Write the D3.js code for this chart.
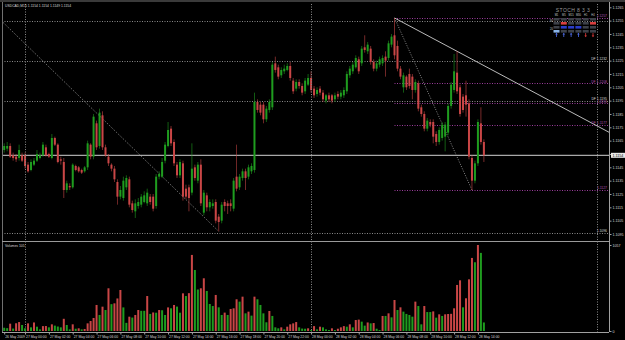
<!DOCTYPE html>
<html>
<head>
<meta charset="utf-8">
<script src="https://cdn.jsdelivr.net/npm/d3@7/dist/d3.min.js"></script>
<style>
  html, body { margin: 0; padding: 0; background: #000; }
  svg { display: block; }
</style>
</head>
<body>
<svg id="chart"></svg>
<script>
// USDCAD M15, 162 bars, bar 7 = 27 May 00:00
const opens = [
  1.1158,1.1159,1.1161,1.1154,1.1153,1.1152,1.1154,1.1154,1.1147,1.1143,
  1.1147,1.1150,1.1152,1.1154,1.1160,1.1155,1.1152,1.1167,1.1162,1.1151,
  1.1149,1.1128,1.1131,1.1130,1.1146,1.1145,1.1143,1.1142,1.1145,1.1162,
  1.1153,1.1178,1.1161,1.1184,1.1160,1.1153,1.1147,1.1144,1.1134,1.1123,
  1.1122,1.1130,1.1136,1.1118,1.1112,1.1116,1.1117,1.1119,1.1118,1.1123,
  1.1123,1.1116,1.1138,1.1138,1.1150,1.1161,1.1174,1.1164,1.1147,1.1139,
  1.1148,1.1129,1.1130,1.1126,1.1145,1.1135,1.1147,1.1111,1.1124,1.1115,
  1.1116,1.1119,1.1108,1.1105,1.1119,1.1118,1.1118,1.1114,1.1138,1.1130,
  1.1137,1.1142,1.1138,1.1142,1.1143,1.1194,1.1192,1.1192,1.1181,1.1188,
  1.1190,1.1223,1.1220,1.1214,1.1217,1.1218,1.1221,1.1210,1.1204,1.1209,
  1.1206,1.1202,1.1207,1.1212,1.1204,1.1200,1.1204,1.1201,1.1195,1.1199,
  1.1199,1.1196,1.1200,1.1198,1.1199,1.1202,1.1214,1.1217,1.1220,1.1226,
  1.1223,1.1235,1.1232,1.1234,1.1224,1.1219,1.1222,1.1223,1.1228,1.1227,
  1.1237,1.1244,1.1236,1.1219,1.1205,1.1213,1.1215,1.1213,1.1203,1.1208,
  1.1190,1.1185,1.1174,1.1179,1.1179,1.1170,1.1164,1.1167,1.1168,1.1171,
  1.1191,1.1203,1.1216,1.1205,1.1198,1.1199,1.1193,1.1152,1.1135,1.1148,
  1.1178,1.1164
];
const highs = [
  1.1163,1.1164,1.1163,1.1156,1.1155,1.1162,1.1156,1.1156,1.1149,1.1151,
  1.1152,1.1158,1.1156,1.1164,1.1162,1.1156,1.1170,1.1168,1.1163,1.1153,
  1.1152,1.1135,1.1133,1.1148,1.1147,1.1146,1.1144,1.1146,1.1165,1.1163,
  1.1185,1.1180,1.1189,1.1187,1.1162,1.1155,1.1148,1.1146,1.1136,1.1131,
  1.1138,1.1139,1.1138,1.1120,1.1121,1.1122,1.1125,1.1127,1.1129,1.1125,
  1.1125,1.1140,1.1142,1.1152,1.1164,1.1179,1.1176,1.1166,1.1149,1.1151,
  1.1150,1.1132,1.1132,1.1163,1.1147,1.1149,1.1151,1.1128,1.1126,1.1121,
  1.1121,1.1121,1.1110,1.1119,1.1121,1.1120,1.1121,1.1137,1.1162,1.1140,
  1.1144,1.1144,1.1147,1.1148,1.1201,1.1196,1.1194,1.1194,1.1191,1.1196,
  1.1224,1.1228,1.1222,1.1220,1.1222,1.1223,1.1224,1.1212,1.1211,1.1211,
  1.1208,1.1212,1.1215,1.1217,1.1206,1.1205,1.1206,1.1203,1.1200,1.1201,
  1.1200,1.1201,1.1202,1.1203,1.1205,1.1217,1.1221,1.1224,1.1229,1.1228,
  1.1236,1.1244,1.1239,1.1236,1.1226,1.1225,1.1228,1.1229,1.1232,1.1240,
  1.1245,1.1257,1.1240,1.1221,1.1216,1.1214,1.1219,1.1215,1.1211,1.1210,
  1.1192,1.1187,1.1182,1.1181,1.1181,1.1172,1.1175,1.1179,1.1179,1.1193,
  1.1209,1.1230,1.1232,1.1207,1.1200,1.1210,1.1196,1.1154,1.1150,1.1181,
  1.1190,1.1166
];
const lows = [
  1.1156,1.1157,1.1152,1.1150,1.1149,1.1150,1.1149,1.1144,1.1141,1.1142,
  1.1146,1.1149,1.1151,1.1153,1.1153,1.1152,1.1151,1.1161,1.1148,1.1147,
  1.1122,1.1126,1.1128,1.1129,1.1142,1.1141,1.1140,1.1141,1.1143,1.1151,
  1.1151,1.1158,1.1159,1.1158,1.1153,1.1146,1.1142,1.1134,1.1117,1.1121,
  1.1120,1.1128,1.1115,1.1111,1.1107,1.1114,1.1115,1.1118,1.1116,1.1117,
  1.1112,1.1114,1.1136,1.1137,1.1148,1.1160,1.1161,1.1146,1.1137,1.1137,
  1.1120,1.1121,1.1112,1.1124,1.1135,1.1133,1.1116,1.1109,1.1112,1.1112,
  1.1114,1.1103,1.1097,1.1103,1.1112,1.1110,1.1112,1.1112,1.1127,1.1128,
  1.1135,1.1128,1.1136,1.1140,1.1141,1.1186,1.1184,1.1178,1.1179,1.1186,
  1.1188,1.1216,1.1211,1.1212,1.1215,1.1217,1.1210,1.1200,1.1202,1.1204,
  1.1199,1.1200,1.1206,1.1201,1.1197,1.1198,1.1199,1.1194,1.1193,1.1194,
  1.1193,1.1194,1.1196,1.1196,1.1197,1.1200,1.1212,1.1215,1.1219,1.1215,
  1.1221,1.1231,1.1230,1.1222,1.1217,1.1217,1.1220,1.1221,1.1213,1.1225,
  1.1235,1.1226,1.1217,1.1211,1.1201,1.1203,1.1204,1.1196,1.1201,1.1187,
  1.1183,1.1172,1.1172,1.1175,1.1163,1.1161,1.1162,1.1165,1.1157,1.1169,
  1.1189,1.1201,1.1200,1.1183,1.1186,1.1183,1.1151,1.1128,1.1133,1.1146,
  1.1162,1.1149
];
const closes = [
  1.1161,1.1161,1.1153,1.1152,1.1151,1.1158,1.1150,1.1146,1.1142,1.1149,
  1.1150,1.1155,1.1154,1.1162,1.1154,1.1153,1.1167,1.1162,1.1149,1.1150,
  1.1128,1.1133,1.1130,1.1147,1.1143,1.1142,1.1141,1.1145,1.1163,1.1153,
  1.1183,1.1160,1.1186,1.1160,1.1154,1.1148,1.1144,1.1136,1.1123,1.1128,
  1.1135,1.1137,1.1117,1.1113,1.1118,1.1119,1.1123,1.1124,1.1126,1.1119,
  1.1114,1.1138,1.1140,1.1149,1.1162,1.1173,1.1163,1.1148,1.1139,1.1149,
  1.1123,1.1123,1.1122,1.1144,1.1137,1.1147,1.1118,1.1126,1.1115,1.1119,
  1.1118,1.1105,1.1104,1.1117,1.1116,1.1116,1.1116,1.1135,1.1129,1.1138,
  1.1142,1.1137,1.1145,1.1146,1.1194,1.1188,1.1186,1.1181,1.1189,1.1194,
  1.1222,1.1218,1.1213,1.1218,1.1219,1.1221,1.1212,1.1202,1.1209,1.1206,
  1.1201,1.1210,1.1212,1.1203,1.1199,1.1203,1.1201,1.1196,1.1199,1.1196,
  1.1195,1.1199,1.1198,1.1201,1.1203,1.1215,1.1219,1.1222,1.1227,1.1217,
  1.1234,1.1233,1.1237,1.1224,1.1219,1.1223,1.1226,1.1227,1.1225,1.1238,
  1.1243,1.1229,1.1219,1.1213,1.1214,1.1205,1.1206,1.1203,1.1209,1.1189,
  1.1185,1.1174,1.1180,1.1177,1.1168,1.1164,1.1173,1.1177,1.1177,1.1191,
  1.1207,1.1217,1.1202,1.1185,1.1188,1.1192,1.1153,1.1135,1.1148,1.1179,
  1.1164,1.1154
];
const volumes = [
  40,35,90,30,95,110,74,33,94,45,
  105,53,20,60,61,45,82,66,55,45,
  150,74,20,82,28,33,20,25,94,123,
  160,320,197,299,258,525,330,340,400,504,
  290,100,176,165,197,258,248,248,430,210,
  228,225,258,255,197,290,279,320,300,225,
  463,430,465,935,750,510,525,648,492,332,
  307,443,291,197,226,197,271,279,390,361,
  422,217,238,189,422,390,320,217,107,246,
  185,45,33,45,20,53,82,94,110,45,
  30,28,33,12,60,20,53,45,20,12,
  33,12,28,45,60,53,82,45,135,140,
  115,66,105,94,98,28,12,185,185,217,
  168,381,258,291,238,210,197,176,361,307,
  82,307,233,233,241,164,205,185,205,209,
  211,279,566,623,291,402,635,898,845,1057,
  960,105
];

const priceTicks = ['1.1265','1.1255','1.1245','1.1235','1.1225','1.1215','1.1205','1.1195','1.1185',
  '1.1175','1.1165','1.1155','1.1145','1.1135','1.1125','1.1115','1.1105','1.1095'];
const volumeTicks = [0, 1057];
const timeLabels = ['26 May 2009','27 May 00:00','27 May 02:00','27 May 04:00','27 May 06:00','27 May 08:00',
  '27 May 10:00','27 May 12:00','27 May 14:00','27 May 16:00','27 May 18:00','27 May 20:00','27 May 22:00',
  '28 May 00:00','28 May 02:00','28 May 04:00','28 May 06:00','28 May 08:00','28 May 10:00','28 May 12:00','28 May 14:00'];
const timeLabelBars = [0,7,15,23,31,39,47,55,63,71,79,87,95,103,111,119,127,135,143,151,159];
const daySeparatorBars = [7, 103, 199];

// drawn objects on the chart
const gridPrices = [1.1255, 1.1225, 1.1195, 1.1096];
const fibFrom = { bar: 131, price: 1.1257 };
const fibTo = { bar: 157, price: 1.1128 };
const fibLevels = [1.1257, 1.1208, 1.1193, 1.1177, 1.1128];
const fibLabels = ['1.1257', 'DF  1.1208', '1.1193', 'DF  1.1177', '1.1127'];
const dfLevels = [1.1225, 1.1195];
const dfLabels = ['DF  1.1232', 'DF  1.1195'];
const dottedTrend = { fromBar: -1, fromPrice: 1.1255, toBar: 72, toPrice: 1.1097 };
const trendLine = { fromBar: 131, fromPrice: 1.1257, toBar: 152, toPrice: 1.1232 };
const lastPrice = 1.1154;
const lastBarText = 'USDCAD,M15  1.1154 1.1154 1.1149 1.1154';

// stoch dashboard
const stochFrames = ['M1','M5','M15','M30','H1','H4'];
const stochRows = [
  ['n','n','n','n','n','n'],
  ['n','hi','n','n','n','hi'],
  ['n','lo','lo','lo','n','n'],
  ['lb','n','n','n','n','n']
];
const stochArrows = ['up','up','up','up','down','down'];

const width = 625, height = 340;
const plotRight = 609;
const mainTop = 4, mainBottom = 240;
const volTop = 242, volBottom = 332;
const font = '"Liberation Sans", Arial, sans-serif';
const textColor = '#d8d8d8';
const bull = '#1f9c1f', bear = '#c94646';

const svg = d3.select('#chart').attr('width', width).attr('height', height)
  .style('font-family', font);

svg.append('rect').attr('width', width).attr('height', height).attr('fill', '#000');

const x = d3.scaleLinear().domain([0, 199]).range([4.2, 597.1]);
const y = d3.scaleLinear().domain([1.1095, 1.1265]).range([234, 7.3]);
const yv = d3.scaleLinear().domain([0, 1057]).range([331, 245]);

const main = svg.append('g');
svg.append('clipPath').attr('id', 'mainClip')
  .append('rect').attr('x', 2).attr('y', mainTop).attr('width', plotRight - 2).attr('height', mainBottom - mainTop);

// frame
svg.append('rect').attr('x', 0).attr('y', 0).attr('width', width).attr('height', 2).attr('fill', '#3a3a3a');
svg.append('line').attr('x1', 2.5).attr('x2', 2.5).attr('y1', 2).attr('y2', volBottom).attr('stroke', '#707070');
svg.append('line').attr('x1', plotRight + 0.5).attr('x2', plotRight + 0.5).attr('y1', 2).attr('y2', volBottom)
  .attr('stroke', '#a0a0a0');
svg.append('line').attr('x1', 2).attr('x2', plotRight).attr('y1', 241.5).attr('y2', 241.5).attr('stroke', '#9a9a9a');
svg.append('line').attr('x1', 2).attr('x2', plotRight).attr('y1', volBottom + 0.5).attr('y2', volBottom + 0.5)
  .attr('stroke', '#a0a0a0');

// day separators
svg.selectAll('.day').data(daySeparatorBars).enter().append('line')
  .attr('x1', d => Math.round(x(d)) + 0.5).attr('x2', d => Math.round(x(d)) + 0.5)
  .attr('y1', mainTop).attr('y2', volBottom)
  .attr('stroke', '#8a8a8a').attr('stroke-dasharray', '1,1.5');

const plot = main.append('g').attr('clip-path', 'url(#mainClip)');

// horizontal dotted levels
plot.selectAll('.grid').data(gridPrices).enter().append('line')
  .attr('x1', 2).attr('x2', plotRight)
  .attr('y1', d => Math.round(y(d)) + 0.5).attr('y2', d => Math.round(y(d)) + 0.5)
  .attr('stroke', '#8a8a8a').attr('stroke-dasharray', '1,1.5');

// fibo levels
plot.selectAll('.fib').data(fibLevels).enter().append('line')
  .attr('x1', x(fibFrom.bar)).attr('x2', plotRight)
  .attr('y1', d => Math.round(y(d)) + 0.5).attr('y2', d => Math.round(y(d)) + 0.5)
  .attr('stroke', '#9b3c9b').attr('stroke-dasharray', '1,1.5');

// dotted trend lines
plot.append('line')
  .attr('x1', x(dottedTrend.fromBar)).attr('y1', y(dottedTrend.fromPrice))
  .attr('x2', x(dottedTrend.toBar)).attr('y2', y(dottedTrend.toPrice))
  .attr('stroke', '#8a8a8a').attr('stroke-dasharray', '1,1.5');
plot.append('line')
  .attr('x1', x(fibFrom.bar)).attr('y1', y(fibFrom.price))
  .attr('x2', x(fibTo.bar)).attr('y2', y(fibTo.price))
  .attr('stroke', '#8a8a8a').attr('stroke-dasharray', '1,1.5');

// current price line
plot.append('line').attr('x1', 2).attr('x2', plotRight)
  .attr('y1', y(lastPrice)).attr('y2', y(lastPrice))
  .attr('stroke', '#a8a8a8').attr('stroke-width', 1.3);

// trend line (ray to the right)
const slope = (y(trendLine.toPrice) - y(trendLine.fromPrice)) / (x(trendLine.toBar) - x(trendLine.fromBar));
plot.append('line')
  .attr('x1', x(trendLine.fromBar)).attr('y1', y(trendLine.fromPrice))
  .attr('x2', plotRight).attr('y2', y(trendLine.fromPrice) + slope * (plotRight - x(trendLine.fromBar)))
  .attr('stroke', '#cfcfcf').attr('stroke-width', 0.9);

// candles
const bars = opens.map((o, i) => ({ i, o, h: highs[i], l: lows[i], c: closes[i], v: volumes[i] }));
const candle = plot.selectAll('.candle').data(bars).enter().append('g');
candle.append('line')
  .attr('x1', d => x(d.i)).attr('x2', d => x(d.i))
  .attr('y1', d => y(d.h)).attr('y2', d => y(d.l))
  .attr('stroke', d => d.c >= d.o ? bull : bear).attr('stroke-width', 0.8).attr('opacity', 0.75);
candle.append('rect')
  .attr('x', d => x(d.i) - 1).attr('width', 2)
  .attr('y', d => y(Math.max(d.o, d.c)))
  .attr('height', d => Math.max(0.8, Math.abs(y(d.o) - y(d.c))))
  .attr('fill', d => d.c >= d.o ? bull : bear);

// price axis
const pAxis = svg.append('g').attr('transform', `translate(${plotRight + 0.5},0)`)
  .call(d3.axisRight(y).tickValues(priceTicks.map(Number)).tickFormat(d3.format('.4f')).tickSize(2));
pAxis.select('.domain').remove();
pAxis.selectAll('line').attr('stroke', '#a0a0a0');
pAxis.selectAll('text').attr('fill', textColor).attr('font-size', 3.6).attr('x', 3)
  .style('font-family', font);

// current price tag
const tag = svg.append('g').attr('transform', `translate(${plotRight + 1},${y(lastPrice)})`);
tag.append('rect').attr('x', 1).attr('y', -2.5).attr('width', 14).attr('height', 5).attr('fill', '#e8e8e8');
tag.append('text').attr('x', 2.5).attr('y', 1.3).attr('font-size', 3.6).attr('fill', '#000').text(d3.format('.4f')(lastPrice));

// level labels
plot.selectAll('.fibLabel').data(fibLevels).enter().append('text')
  .attr('x', 607).attr('y', d => y(d) - 0.6).attr('text-anchor', 'end')
  .attr('font-size', 3.4).attr('fill', '#b050b0').text((d, i) => fibLabels[i]);
plot.selectAll('.dfLabel').data(dfLevels).enter().append('text')
  .attr('x', 607).attr('y', d => y(d) - 0.8).attr('text-anchor', 'end')
  .attr('font-size', 3.4).attr('fill', textColor).text((d, i) => dfLabels[i]);
plot.append('text').attr('x', 607).attr('y', y(gridPrices[3]) - 0.8).attr('text-anchor', 'end')
  .attr('font-size', 3.4).attr('fill', textColor).text(d3.format('.4f')(gridPrices[3]));

// title
svg.append('text').attr('x', 5).attr('y', 6.5).attr('font-size', 3.4).attr('fill', textColor).text(lastBarText);

// stoch dashboard
const colX = d3.scalePoint().domain(stochFrames).range([556.5, 593]);
const st = svg.append('g');
st.append('text').attr('x', 573).attr('y', 12).attr('text-anchor', 'middle').attr('font-size', 5)
  .attr('fill', '#9a9a9a').attr('letter-spacing', 0.4).text('STOCH 8 3 3');
st.selectAll('.hdr').data(stochFrames).enter().append('text')
  .attr('x', d => colX(d)).attr('y', 16.2).attr('text-anchor', 'middle')
  .attr('font-size', 2.6).attr('fill', '#c8c8c8').text(d => d);
const cellColor = { n: '#3c4048', hi: '#d84040', lo: '#2a3cc8', lb: '#8ab4e8' };
stochRows.forEach((row, r) => {
  st.selectAll('.cell' + r).data(row).enter().append('rect')
    .attr('x', (d, k) => colX(stochFrames[k]) - 3).attr('width', 6)
    .attr('y', 18 + r * 4).attr('height', 2.6)
    .attr('fill', d => cellColor[d]);
});
st.append('text').attr('x', 550).attr('y', 22).attr('font-size', 2.6).attr('fill', '#c8c8c8').text('80');
st.append('text').attr('x', 550).attr('y', 29.5).attr('font-size', 2.6).attr('fill', '#c8c8c8').text('20');
// arrows as small paths
const arrowUp = 'M0,-2.2 L1.3,-0.6 L0.4,-0.6 L0.4,2 L-0.4,2 L-0.4,-0.6 L-1.3,-0.6 Z';
const arrowDown = 'M0,2.2 L1.3,0.6 L0.4,0.6 L0.4,-2 L-0.4,-2 L-0.4,0.6 L-1.3,0.6 Z';
st.selectAll('.arrow').data(stochArrows).enter().append('path')
  .attr('transform', (d, k) => `translate(${colX(stochFrames[k])},35)`)
  .attr('d', d => d === 'up' ? arrowUp : arrowDown)
  .attr('fill', d => d === 'up' ? '#4f6ff0' : '#e03a3a');

// volumes
svg.append('text').attr('x', 5).attr('y', 247).attr('font-size', 3.4).attr('fill', textColor)
  .text('Volumes ' + volumes[volumes.length - 1]);
svg.selectAll('.vol').data(bars).enter().append('rect')
  .attr('x', d => x(d.i) - 1).attr('width', 2)
  .attr('y', d => yv(d.v)).attr('height', d => yv(0) - yv(d.v))
  .attr('fill', d => (d.i > 0 && d.v > volumes[d.i - 1]) ? bear : bull);

const vAxis = svg.append('g').attr('transform', `translate(${plotRight + 0.5},0)`)
  .call(d3.axisRight(yv).tickValues(volumeTicks).tickFormat(d3.format('d')).tickSize(2));
vAxis.select('.domain').remove();
vAxis.selectAll('line').attr('stroke', '#a0a0a0');
vAxis.selectAll('text').attr('fill', textColor).attr('font-size', 3.6).attr('x', 3).style('font-family', font);

// time axis
const tAxis = svg.append('g').attr('transform', `translate(0,${volBottom + 0.5})`)
  .call(d3.axisBottom(x).tickValues(timeLabelBars).tickFormat((d, i) => timeLabels[i]).tickSize(2));
tAxis.select('.domain').remove();
tAxis.selectAll('line').attr('stroke', '#a0a0a0');
tAxis.selectAll('text').attr('fill', textColor).attr('font-size', 3.4).attr('text-anchor', 'start')
  .attr('y', 3.2).attr('dy', '0.71em').attr('x', 0.5).style('font-family', font);
</script>
</body>
</html>
